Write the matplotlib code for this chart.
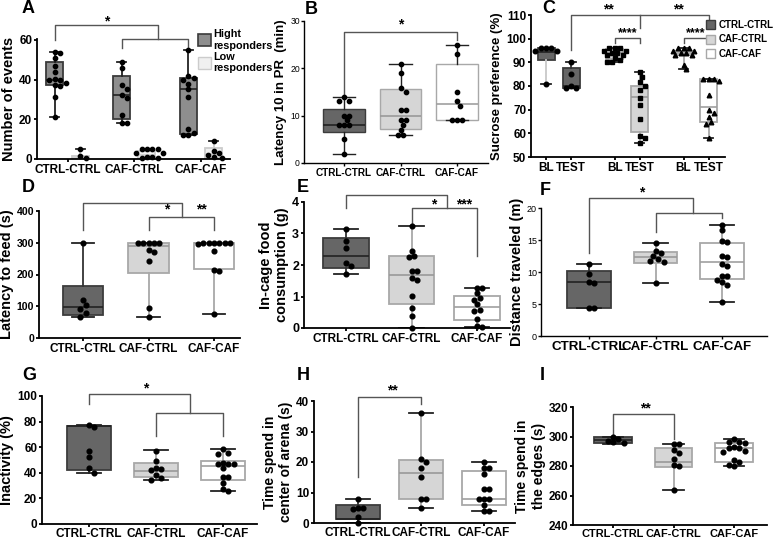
import numpy as np
import matplotlib
matplotlib.use('Agg')
import matplotlib.pyplot as plt
from matplotlib.patches import Patch

plt.rcParams['font.family'] = ['Liberation Sans', 'DejaVu Sans']
plt.rcParams['font.weight'] = 'bold'
plt.rcParams['axes.labelweight'] = 'bold'

groups = ['CTRL-CTRL', 'CAF-CTRL', 'CAF-CAF']

# box stats: [whisker low, q1, median, q3, whisker high]
# A - number of events
a_high_box = [[21, 37.5, 40, 49, 54], [18, 20, 32, 41.8, 49], [12, 12.5, 35, 41, 55]]
a_low_box = [[0, 0, 0.5, 1.2, 5], [0, 0, 2, 4, 5], [0, 0.5, 2.5, 5.5, 9]]
a_high_pts = [[54, 53.5, 51, 47, 44, 40.5, 40, 40, 38.5, 37, 36.5, 31, 21],
              [49, 46, 37, 35, 32, 30.5, 22, 18, 18],
              [55, 42, 41, 40, 38, 35, 31, 15, 13, 12, 12]]
a_low_pts = [[5, 1.3, 0.3], [5, 5, 5, 5, 3, 3, 1, 1, 0.5, 0.5], [9, 4, 3, 2, 1, 0.5]]
a_legend = ['Hight\nresponders', 'Low\nresponders']

# B - latency 10 in PR
b_box = [[2, 6.5, 8, 11.5, 14], [6, 7.2, 10, 15.7, 21], [9, 9, 12.5, 21, 25]]
b_pts = [[14, 13.2, 13.2, 10, 10, 9, 8, 8, 8, 5, 2],
         [21, 19, 15.9, 15, 11.1, 11.1, 9, 9, 8, 7, 6, 6],
         [25, 23, 15, 13, 12, 9, 9, 9]]

# C - sucrose preference (BL / TEST for each group)
c_ticks = ['BL', 'TEST', 'BL', 'TEST', 'BL', 'TEST']
c_box = [[81, 91, 94.5, 96, 96], [79, 79, 80, 87.5, 90],
         [90, 91.5, 94, 95.5, 96], [56, 60.5, 75.5, 80, 86],
         [87, 93, 94, 95, 96], [58, 65, 71, 83, 83]]
c_pts = [[96, 96, 96, 95, 95, 81], [90, 85, 80, 79, 79],
         [96, 96, 96, 95, 95, 94, 94, 93, 93, 92, 91, 90, 90],
         [86, 84, 81.5, 80, 78.5, 75, 72, 66, 59, 58, 56],
         [96, 96, 96, 95, 95, 94, 94, 93, 93, 89, 87],
         [83, 83, 83, 82, 76, 70, 68.5, 67, 65, 64, 58]]

# D - latency to feed
d_box = [[65, 72, 97, 165, 300], [67, 205, 290, 300, 300], [75, 217, 300, 300, 300]]
d_pts = [[300, 120, 103, 91, 78, 65],
         [300, 300, 300, 300, 300, 278, 270, 243, 96, 67],
         [300, 300, 300, 300, 300, 300, 295, 273, 215, 210, 75]]

# E - in-cage food consumption
e_box = [[1.7, 1.9, 2.3, 2.85, 3.15], [0, 0.75, 1.68, 2.27, 3.25], [0.02, 0.25, 0.68, 1.03, 1.28]]
e_pts = [[3.15, 2.75, 2.55, 2.07, 1.97, 1.7],
         [3.25, 2.43, 2.28, 2.25, 1.82, 1.8, 1.58, 1.53, 1.03, 0.65, 0.38, 0.0],
         [1.28, 1.27, 1.1, 0.95, 0.9, 0.75, 0.58, 0.55, 0.28, 0.05, 0.02]]

# F - distance traveled
f_box = [[4.4, 4.4, 8.5, 10.1, 11.3], [8.3, 11.4, 12.3, 13.2, 14.5], [5.3, 8.9, 11.5, 14.6, 17.4]]
f_pts = [[11.3, 9.7, 8.5, 8.3, 4.4, 4.4],
         [14.5, 13.3, 13.0, 12.5, 12.1, 11.7, 11.5, 8.3],
         [17.4, 16.5, 14.8, 14.7, 12.5, 12.3, 11.2, 10.9, 9.4, 9.3, 8.7, 8.5, 7.9, 5.3]]

# G - inactivity
g_box = [[40, 42.5, 76.5, 76.5, 77.5], [34.5, 36.5, 41.5, 48, 57.5], [25.5, 34.5, 45, 49.5, 58.5]]
g_pts = [[77.5, 75.5, 57, 52, 43.5, 40],
         [57, 49.5, 43.5, 43, 42, 38, 36, 34.5],
         [58.5, 55.5, 55, 48, 47, 47, 46.5, 43.5, 37, 36.5, 32, 27.5, 25.5]]

# H - time in center
h_box = [[0, 1.3, 1.3, 5.8, 8], [5, 8, 16.5, 20.8, 36], [4, 6, 8, 17, 20]]
h_pts = [[8, 5, 4.8, 4.6, 2, 0],
         [36, 21, 20, 18, 15, 8, 8, 5],
         [20, 18, 18, 16, 11, 11, 8, 8, 8, 6, 4, 4]]

# I - time in edges
i_box = [[295, 295.5, 297.5, 299.5, 300], [264, 279, 283, 292, 295], [280, 283, 292, 295.5, 298]]
i_pts = [[300, 298, 297, 296, 295.5],
         [295, 295, 291, 289, 285, 281, 280, 264],
         [298, 296.5, 296, 295.5, 293, 292.5, 292, 290, 289.5, 284, 283, 281, 280]]

# styles
STY = [dict(face='#666666', edge='#3c3c3c', med='#222222', wh='#333333'),
       dict(face='#d6d6d6', edge='#a8a8a8', med='#999999', wh='#a8a8a8'),
       dict(face='white', edge='#a8a8a8', med='#a0a0a0', wh='#a8a8a8')]
HIGH = dict(face='#8e8e8e', edge='#3a3a3a', med='#222222', wh='#222222')
LOW = dict(face='#f0f0f0', edge='#cccccc', med='#cccccc', wh='#cccccc')
BR = '#555555'

W, H = 776, 540
fig = plt.figure(figsize=(W / 100, H / 100), dpi=100)


def make_axes(left, right, top, bottom, c0, step, ylim, lw=1.3):
    ax = fig.add_axes([left / W, 1 - bottom / H, (right - left) / W, (bottom - top) / H])
    ax.set_xlim((left - c0) / step, (right - c0) / step)
    ax.set_ylim(ylim)
    for side in ['top', 'right']:
        ax.spines[side].set_visible(False)
    for side in ['left', 'bottom']:
        ax.spines[side].set_linewidth(lw)
    ax.tick_params(length=2.5, width=lw, labelsize=8.5, pad=1)
    ax.xpx = step
    ax.ypx = (bottom - top) / (ylim[1] - ylim[0])
    return ax


def swarm(vals, xpx, ypx, d=5.4):
    cands = [0.0]
    for k in range(1, 40):
        cands += [k * d / 2, -k * d / 2]
    placed, offs = [], []
    for v in vals:
        y = v * ypx
        for x in cands:
            if all((x - px) ** 2 + (y - py) ** 2 >= d * d for px, py in placed):
                break
        placed.append((x, y))
        offs.append(x / xpx)
    return np.array(offs)


def draw_box(ax, pos, st, width, sty, capc='#222222', lw=1.3):
    lo, q1, med, q3, hi = st
    ax.bxp([dict(med=med, q1=q1, q3=q3, whislo=lo, whishi=hi, fliers=[])],
           positions=[pos], widths=width, capwidths=width * 0.55,
           patch_artist=True, showfliers=False, manage_ticks=False,
           boxprops=dict(facecolor=sty['face'], edgecolor=sty['edge'], linewidth=lw),
           medianprops=dict(color=sty['med'], linewidth=1.2),
           whiskerprops=dict(color=sty['wh'], linewidth=lw),
           capprops=dict(color=capc, linewidth=lw))


def draw_points(ax, pos, vals, marker='o', ms=3.4):
    vals = np.asarray(vals, float)
    offs = swarm(vals, ax.xpx, ax.ypx)
    ax.plot(pos + offs, vals, marker, color='black', ms=ms, ls='none',
            zorder=4, clip_on=False)


def bracket(ax, x1, x2, y, y1, y2):
    ax.plot([x1, x1, x2, x2], [y1, y, y, y2], color=BR, lw=1, clip_on=False, zorder=1)


def stars(ax, x, y, s, size=10):
    ax.text(x, y, s, ha='center', va='center', fontsize=size, clip_on=False)


def simple_panel(ax, boxes, pts, width, labels_size=8.5):
    pos = np.arange(3)
    for i in range(3):
        draw_box(ax, pos[i], boxes[i], width, STY[i])
        draw_points(ax, pos[i], pts[i])
    ax.set_xticks(pos, groups, fontsize=labels_size)


# ---- A ----
ax = make_axes(37, 230, 39, 158.7, 67.5, 66.75, (0, 60.5))
pos = np.arange(3)
for i in range(3):
    draw_box(ax, pos[i] - 0.19, a_high_box[i], 0.255, HIGH)
    draw_box(ax, pos[i] + 0.19, a_low_box[i], 0.255, LOW)
    draw_points(ax, pos[i] - 0.19, a_high_pts[i], ms=3.1)
    draw_points(ax, pos[i] + 0.19, a_low_pts[i], ms=3.1)
ax.set_xticks(pos, groups, fontsize=8.5)
ax.set_yticks([0, 20, 40, 60])
ax.set_ylabel('Number of events', fontsize=10.5, labelpad=2)
bracket(ax, -0.19, 1.35, 67.5, 60, 60.5)
bracket(ax, 0.81, 1.81, 60.5, 56, 56)
stars(ax, 0.58, 69.5, '*')
fig.legend(handles=[Patch(facecolor=HIGH['face'], edgecolor=HIGH['edge'], lw=1.2),
                    Patch(facecolor=LOW['face'], edgecolor=LOW['edge'], lw=1)],
           labels=a_legend, loc='upper left', bbox_to_anchor=(198 / W, 1 - 29 / H),
           frameon=False, fontsize=7.8, handlelength=1.2, handleheight=1.3,
           handletextpad=0.25, labelspacing=0.1, borderpad=0, borderaxespad=0)

# ---- B ----
ax = make_axes(304, 488, 21, 163, 344, 56.5, (0, 30), lw=1.0)
for i in range(3):
    sty = dict(STY[i])
    sty['wh'] = '#222222'
    draw_box(ax, i, b_box[i], 0.74, sty, lw=1.0)
    draw_points(ax, i, b_pts[i], ms=3.1)
ax.set_xticks(np.arange(3), groups, fontsize=7.2)
ax.set_yticks([0, 10, 20, 30])
ax.tick_params(axis='y', labelsize=6.2, length=2)
for t in ax.get_yticklabels():
    t.set_fontweight('normal')
ax.set_ylabel('Latency 10 in PR  (min)', fontsize=9.5, labelpad=2)
bracket(ax, 0, 2, 27.7, 14.3, 25.9)
stars(ax, 1.0, 29.3, '*')

# ---- C ----
ax = make_axes(531, 725, 15, 157, 546, 25, (50, 110))
c_pos = np.array([0, 1, 2.75, 3.75, 5.5, 6.5])
c_sty = [STY[0], STY[0], STY[1], STY[1], STY[2], STY[2]]
c_mk = ['o', 'o', 's', 's', '^', '^']
for i in range(6):
    sty = dict(c_sty[i])
    if i == 0:
        sty['wh'] = '#c8c8c8'
    draw_box(ax, c_pos[i], c_box[i], 0.68, sty)
    draw_points(ax, c_pos[i], c_pts[i], marker=c_mk[i], ms=3.3)
ax.set_xticks(c_pos, c_ticks, fontsize=8.5)
ax.set_yticks(np.arange(50, 111, 10))
ax.set_ylabel('Sucrose preference (%)', fontsize=9.5, labelpad=2)
ax.plot([1, 1, 6.5, 6.5], [95.3, 110, 110, 104.5], color=BR, lw=1, clip_on=False)
ax.plot([3.75, 3.75], [110, 104.5], color=BR, lw=1, clip_on=False)
stars(ax, 2.48, 112.3, '**')
stars(ax, 5.3, 112.3, '**')
bracket(ax, 2.75, 3.75, 100.2, 98, 98)
bracket(ax, 5.5, 6.5, 100.2, 98, 98)
stars(ax, 3.25, 102.2, '****', size=9)
stars(ax, 6.0, 102.2, '****', size=9)
fig.legend(handles=[Patch(facecolor=s['face'], edgecolor=s['edge'], lw=1) for s in STY],
           labels=groups, loc='upper left', bbox_to_anchor=(706 / W, 1 - 20 / H),
           frameon=False, fontsize=7.0, handlelength=0.9, handleheight=1.05,
           handletextpad=0.4, labelspacing=0.45, borderpad=0, borderaxespad=0)

# ---- D ----
ax = make_axes(39, 240, 211, 338, 83, 65.5, (0, 400))
simple_panel(ax, d_box, d_pts, 0.62)
ax.set_yticks([0, 100, 200, 300, 400])
ax.tick_params(axis='y', labelsize=7.6)
ax.set_ylabel('Latency to feed (s)', fontsize=10.5, labelpad=2)
bracket(ax, 0, 1.51, 424, 340, 382)
bracket(ax, 1, 2, 382, 340, 340)
stars(ax, 1.28, 404, '*')
stars(ax, 1.8, 404, '**')

# ---- E ----
ax = make_axes(304, 510, 202, 328, 346, 65.5, (0, 4))
simple_panel(ax, e_box, e_pts, 0.69)
ax.set_yticks([0, 1, 2, 3, 4])
ax.tick_params(axis='y', labelsize=9)
ax.set_ylabel('In-cage food\nconsumption (g)', fontsize=10.5, labelpad=2)
bracket(ax, 0, 1.54, 4.23, 3.8, 3.8)
bracket(ax, 1, 2, 3.8, 3.33, 2.27)
stars(ax, 1.34, 3.93, '*')
stars(ax, 1.8, 3.93, '***')

# ---- F ----
ax = make_axes(541, 767, 208, 336, 589, 66.5, (0, 20), lw=1.0)
simple_panel(ax, f_box, f_pts, 0.66, labels_size=9.6)
ax.set_yticks([0, 5, 10, 15, 20])
ax.tick_params(axis='y', labelsize=6.5, length=2)
for t in ax.get_yticklabels():
    t.set_fontweight('normal')
ax.set_ylabel('Distance traveled (m)', fontsize=10.5, labelpad=2)
bracket(ax, 0, 1.56, 21.6, 12.9, 19.2)
bracket(ax, 1, 2, 19.2, 16.3, 18.4)
stars(ax, 0.8, 22.4, '*')

# ---- G ----
ax = make_axes(42, 257, 396, 524, 89, 67, (0, 100))
simple_panel(ax, g_box, g_pts, 0.67)
ax.set_yticks(np.arange(0, 101, 20))
ax.tick_params(axis='x', pad=0.5)
ax.set_ylabel('Inactivity (%)', fontsize=10.5, labelpad=2)
bracket(ax, 0, 1.51, 101.3, 94, 87)
bracket(ax, 1, 2, 87, 68.8, 68.8)
stars(ax, 0.84, 106, '*')

# ---- H ----
ax = make_axes(314, 515, 401, 523, 358, 63, (0, 40))
simple_panel(ax, h_box, h_pts, 0.7)
ax.set_yticks([0, 10, 20, 30, 40])
ax.tick_params(axis='x', pad=0.5)
ax.set_ylabel('Time spend in\ncenter of arena (s)', fontsize=10, labelpad=2)
bracket(ax, 0, 1, 41.4, 15.2, 39.1)
stars(ax, 0.55, 43.3, '**')

# ---- I ----
ax = make_axes(573, 767, 407, 525, 613, 60.5, (240, 320))
simple_panel(ax, i_box, i_pts, 0.62, labels_size=7.9)
ax.set_yticks(np.arange(240, 321, 20))
ax.tick_params(axis='x', pad=0.5)
ax.set_ylabel('Time spend in\nthe edges (s)', fontsize=10, labelpad=2)
bracket(ax, 0, 1, 315, 302, 298.6)
stars(ax, 0.53, 319.3, '**')

# panel letters
letters = [('A', 22, 3), ('B', 305, 4), ('C', 542, 3), ('D', 22, 182), ('E', 297, 182),
           ('F', 540, 185), ('G', 22, 370), ('H', 297, 370), ('I', 540, 370)]
for s, x, y in letters:
    fig.text(x / W, 1 - (y - 3) / H, s, fontsize=13, fontweight='heavy', va='top', ha='left')

fig.savefig('out.png', dpi=100)
